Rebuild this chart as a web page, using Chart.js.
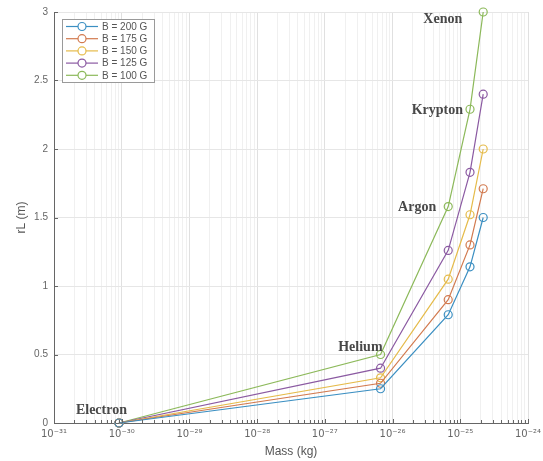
<!DOCTYPE html>
<html>
<head>
<meta charset="utf-8">
<script src="https://cdn.jsdelivr.net/npm/chart.js@4"></script>
<style>
  html, body { margin: 0; padding: 0; background: #fff; }
  #wrap { width: 543px; height: 461px; }
</style>
</head>
<body>
<div id="wrap"><canvas id="myChart"></canvas></div>
<script>
// particles and their masses (kg)
var particles = ['Electron', 'Helium', 'Argon', 'Krypton', 'Xenon'];
var massKg = [9.109e-31, 6.646e-27, 6.634e-26, 1.392e-25, 2.180e-25];

// Larmor radius rL (m)
var seriesNames = ['B = 200 G', 'B = 175 G', 'B = 150 G', 'B = 125 G', 'B = 100 G'];
var rL200 = [0.0, 0.25, 0.79, 1.14, 1.50];
var rL175 = [0.0, 0.29, 0.90, 1.30, 1.71];
var rL150 = [0.0, 0.33, 1.05, 1.52, 2.00];
var rL125 = [0.0, 0.40, 1.26, 1.83, 2.40];
var rL100 = [0.0, 0.50, 1.58, 2.29, 3.00];
var seriesColors = ['#3b8fc2', '#d27a4f', '#e5bb4a', '#8b5aa2', '#8cb95a'];

// x axis decades and their labels
var decadeExp = [-31, -30, -29, -28, -27, -26, -25, -24];
var decadeLabels = ['10⁻³¹', '10⁻³⁰', '10⁻²⁹', '10⁻²⁸', '10⁻²⁷', '10⁻²⁶', '10⁻²⁵', '10⁻²⁴'];

// name label offsets (px) from the top series point
var nameOffsets = [[8, -13], [2, -7], [-12, 1], [-7, 1], [-21, 7]];

var allSeries = [rL200, rL175, rL150, rL125, rL100];

function buildTicks() {
    var t = [];
    decadeExp.forEach(function (e, i) {
        t.push({ value: Math.pow(10, e), major: true });
        if (i < decadeExp.length - 1) {
            for (var k = 2; k <= 9; k++) t.push({ value: k * Math.pow(10, e), major: false });
        }
    });
    return t;
}

function decadeLabel(v) {
    var lg = Math.log10(v);
    for (var i = 0; i < decadeExp.length; i++) {
        if (Math.abs(lg - decadeExp[i]) < 1e-6) return decadeLabels[i];
    }
    return '';
}

var extras = {
    id: 'extras',
    afterDraw: function (chart) {
        var c = chart.ctx, area = chart.chartArea;
        var xs = chart.scales.x, ys = chart.scales.y;
        c.save();
        // inward tick marks
        c.strokeStyle = '#666';
        c.lineWidth = 1;
        c.beginPath();
        xs.ticks.forEach(function (t) {
            var px = Math.round(xs.getPixelForValue(t.value)) + 0.5;
            c.moveTo(px, area.bottom);
            c.lineTo(px, area.bottom - (t.major ? 4 : 3));
        });
        ys.ticks.forEach(function (t) {
            var py = Math.round(ys.getPixelForValue(t.value)) + 0.5;
            c.moveTo(area.left, py);
            c.lineTo(area.left + 4, py);
        });
        c.stroke();

        // particle names next to the top series
        c.font = 'bold 14px "Liberation Serif", "Times New Roman", serif';
        c.fillStyle = '#484848';
        c.textAlign = 'right';
        c.textBaseline = 'middle';
        particles.forEach(function (p, i) {
            var px = xs.getPixelForValue(massKg[i]);
            var py = ys.getPixelForValue(rL100[i]);
            c.fillText(p, px + nameOffsets[i][0], py + nameOffsets[i][1]);
        });

        // legend box
        var lx = area.left + 8, ly = area.top + 7, lw = 92, lh = 63;
        c.fillStyle = '#fff';
        c.fillRect(lx, ly, lw, lh);
        c.strokeStyle = '#9a9a9a';
        c.strokeRect(lx + 0.5, ly + 0.5, lw, lh);
        c.font = '10px "Liberation Sans", Arial, sans-serif';
        c.textAlign = 'left';
        chart.data.datasets.forEach(function (ds, i) {
            var yy = ly + 7.5 + i * 12.2;
            c.strokeStyle = ds.borderColor;
            c.lineWidth = 1.2;
            c.beginPath();
            c.moveTo(lx + 4, yy);
            c.lineTo(lx + 36, yy);
            c.stroke();
            c.beginPath();
            c.fillStyle = '#fff';
            c.arc(lx + 20, yy, 4, 0, Math.PI * 2);
            c.fill();
            c.stroke();
            c.fillStyle = '#555';
            c.fillText(ds.label, lx + 40, yy + 0.5);
        });
        c.restore();
    }
};

var datasets = allSeries.map(function (vals, i) {
    return {
        label: seriesNames[i],
        data: vals.map(function (v, j) { return { x: massKg[j], y: v }; }),
        borderColor: seriesColors[i],
        backgroundColor: 'rgba(0,0,0,0)',
        pointBackgroundColor: 'rgba(0,0,0,0)',
        pointBorderColor: seriesColors[i],
        pointRadius: 4,
        pointBorderWidth: 1.2,
        borderWidth: 1.2,
        tension: 0,
        clip: false
    };
});

var ctx = document.getElementById('myChart').getContext('2d');
var chart = new Chart(ctx, {
    type: 'line',
    data: { datasets: datasets },
    options: {
        responsive: true,
        maintainAspectRatio: false,
        animation: false,
        events: [],
        layout: { padding: { top: 11, right: 15, left: 14, bottom: 2 } },
        plugins: {
            legend: { display: false },
            tooltip: { enabled: false }
        },
        scales: {
            x: {
                type: 'logarithmic',
                min: 1e-31,
                max: 1e-24,
                afterBuildTicks: function (scale) { scale.ticks = buildTicks(); },
                afterFit: function (scale) {
                    scale.height = 36;
                    scale.paddingLeft = 0;
                    scale.paddingRight = 0;
                },
                ticks: {
                    autoSkip: false,
                    maxRotation: 0,
                    padding: 5,
                    color: '#666',
                    font: { size: 10, family: '"DejaVu Sans", sans-serif' },
                    callback: function (v) { return decadeLabel(v); }
                },
                grid: {
                    drawTicks: false,
                    color: function (c) { return c.tick && c.tick.major ? '#e0e0e0' : '#f0f0f0'; }
                },
                border: { color: '#666', width: 1 },
                title: {
                    display: true,
                    text: 'Mass (kg)',
                    color: '#555',
                    font: { size: 12, family: '"Liberation Sans", Arial, sans-serif' },
                    padding: { top: 2, bottom: 0 }
                }
            },
            y: {
                min: 0,
                max: 3,
                afterFit: function (scale) { scale.width = 40; },
                ticks: {
                    stepSize: 0.5,
                    padding: 6,
                    color: '#666',
                    font: { size: 10, family: '"Liberation Sans", Arial, sans-serif' },
                    callback: function (v) { return String(Number(v.toFixed(1))); }
                },
                grid: { drawTicks: false, color: '#e6e6e6' },
                border: { color: '#666', width: 1 },
                title: {
                    display: true,
                    text: 'rL (m)',
                    color: '#555',
                    font: { size: 12, family: '"Liberation Sans", Arial, sans-serif' },
                    padding: { top: 0, bottom: 4 }
                }
            }
        }
    },
    plugins: [extras]
});
</script>
</body>
</html>
